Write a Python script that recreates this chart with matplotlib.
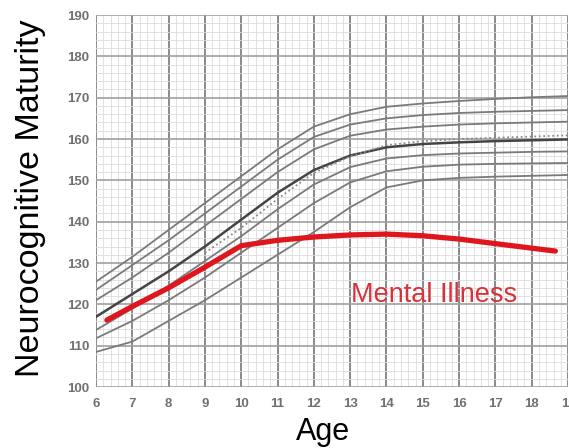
import matplotlib
matplotlib.use("Agg")
import matplotlib.pyplot as plt
from matplotlib.ticker import MultipleLocator

plt.rcParams['font.family'] = ['Liberation Sans', 'DejaVu Sans']

# Reference growth curves (percentile bands), values at each year of age
ages = [6, 7, 8, 9, 10, 11, 12, 13, 14, 15, 16, 17, 18, 19]
band_1 = [125.5, 131.5, 138.0, 144.5, 151.0, 157.5, 163.0, 166.0, 167.8, 168.6, 169.2, 169.7, 170.1, 170.4]
band_2 = [123.5, 129.5, 135.5, 142.0, 148.5, 155.0, 160.5, 163.5, 165.0, 165.8, 166.3, 166.6, 166.8, 167.0]
band_3 = [121.0, 126.5, 132.5, 139.0, 145.5, 152.0, 157.5, 160.8, 162.3, 163.0, 163.5, 163.8, 164.0, 164.2]
median = [117.0, 122.5, 128.0, 134.0, 140.5, 147.0, 152.5, 156.0, 158.0, 158.8, 159.2, 159.5, 159.7, 159.9]
band_5 = [113.8, 119.0, 124.5, 130.5, 136.5, 143.0, 149.0, 153.2, 155.3, 156.1, 156.5, 156.7, 156.9, 157.0]
band_6 = [111.8, 116.0, 121.0, 126.5, 132.5, 138.5, 144.5, 149.5, 152.2, 153.3, 153.8, 154.0, 154.1, 154.2]
band_7 = [108.5, 111.0, 116.0, 121.0, 126.5, 132.0, 137.5, 143.5, 148.3, 150.0, 150.6, 150.9, 151.1, 151.3]

# Secondary (dotted) reference curve
dotted_ages = [9, 10, 11, 12, 13, 14, 15, 16, 17, 18, 19]
dotted_vals = [132.5, 138.5, 145.5, 151.8, 155.8, 158.5, 159.5, 160.0, 160.3, 160.6, 160.9]

# Mental illness trajectory
mi_ages = [6.3, 7, 8, 9, 10, 11, 12, 13, 14, 15, 16, 17, 18, 18.65]
mi_vals = [116.2, 119.5, 124.0, 129.0, 134.2, 135.5, 136.3, 136.8, 137.0, 136.6, 135.8, 134.7, 133.6, 132.9]

x_ticks = list(range(6, 20))
y_ticks = list(range(100, 191, 10))

fig = plt.figure(figsize=(5.69, 4.48), dpi=100)
ax = fig.add_axes([0.1687, 0.136, 0.8296, 0.8305])

ax.set_xlim(6, 19)
ax.set_ylim(100, 190)

# Graph-paper grid
ax.xaxis.set_major_locator(MultipleLocator(1))
ax.xaxis.set_minor_locator(MultipleLocator(0.2))
ax.yaxis.set_major_locator(MultipleLocator(10))
ax.yaxis.set_minor_locator(MultipleLocator(2))
ax.grid(which='minor', color='#dcdcdc', linewidth=0.6)
ax.grid(which='major', axis='x', color='#8a8a8a', linewidth=1.4)
ax.grid(which='major', axis='y', color='#a0a0a0', linewidth=1.2)
ax.set_axisbelow(True)
for s in ax.spines.values():
    s.set_visible(False)

for band in (band_1, band_2, band_3, band_5, band_6, band_7):
    ax.plot(ages, band, color='#7a7a7a', linewidth=1.3, solid_capstyle='round')
ax.plot(ages, median, color='#444444', linewidth=1.8)
ax.plot(dotted_ages, dotted_vals, color='#8a8a8a', linewidth=1.3, linestyle=(0, (1, 1.5)))

ax.plot(mi_ages, mi_vals, color='#e0161e', linewidth=3.8, solid_capstyle='round',
        solid_joinstyle='round', zorder=5)
ax.text(15.3, 122.3, 'Mental Illness', color='#d8323c', fontsize=19.5,
        ha='center', va='center', zorder=6)

ax.set_xticks(x_ticks)
ax.set_yticks(y_ticks)
ax.set_xticklabels([str(v) for v in x_ticks])
ax.set_yticklabels([str(v) for v in y_ticks])
ax.tick_params(axis='both', which='both', length=0, labelsize=9.5, labelcolor='#707070')
ax.tick_params(axis='x', pad=8)
ax.tick_params(axis='y', pad=5)
for lbl in ax.get_xticklabels() + ax.get_yticklabels():
    lbl.set_fontweight('bold')

fig.text(0.053, 0.558, 'Neurocognitive Maturity', rotation=90, fontsize=24.5,
         ha='center', va='center', color='black')
fig.text(0.568, 0.035, 'Age', fontsize=22, ha='center', va='center', color='black')

fig.savefig('out.png', dpi=100)
